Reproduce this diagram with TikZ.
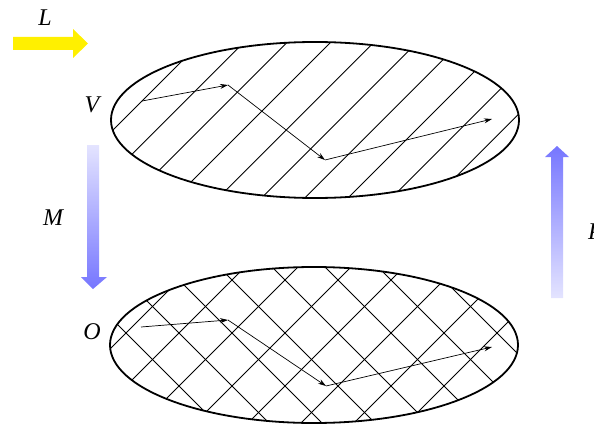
\documentclass[tikz,border=0pt]{standalone}
\usepackage{fontspec}
\setmainfont{Liberation Serif}
\usetikzlibrary{arrows.meta}
\definecolor{lightb}{RGB}{228,228,255}
\definecolor{darkb}{RGB}{118,118,255}
\definecolor{yel}{RGB}{255,240,0}
\begin{document}
\begin{tikzpicture}[x=1pt,y=-1pt,
  lbl/.style={font=\itshape\fontsize{24}{24}\selectfont, inner sep=0pt},
  hatch/.style={line width=0.9pt},
  vec/.style={line width=0.7pt,-{Stealth[length=8pt,width=5pt]}},
  rim/.style={line width=1.8pt}]
\useasboundingbox (0,0) rectangle (594,425);
% top ellipse
\begin{scope}
  \clip (315,120) ellipse [x radius=204, y radius=78];
  \foreach \k in {-1,...,10}{
    \pgfmathsetmacro{\c}{243+43.3*\k}
    \draw[hatch] (\c-450,450) -- (\c,0);
  }
\end{scope}
\draw[rim] (315,120) ellipse [x radius=204, y radius=78];
% bottom ellipse
\begin{scope}
  \clip (314,345) ellipse [x radius=204, y radius=78];
  \foreach \k in {-4,...,6}{
    \pgfmathsetmacro{\c}{618+53*\k}
    \draw[hatch] (\c-450,450) -- (\c,0);
  }
  \foreach \k in {-6,...,3}{
    \pgfmathsetmacro{\b}{58+53*\k}
    \draw[hatch] (\b,0) -- (\b+450,450);
  }
\end{scope}
\draw[rim] (314,345) ellipse [x radius=204, y radius=78];
% vectors top
\coordinate (t1) at (142,101);
\coordinate (t2) at (228,85);
\coordinate (t3) at (325,160);
\coordinate (t4) at (492,119);
\draw[vec] (t1) -- (t2);
\draw[vec] (t2) -- (t3);
\draw[vec] (t3) -- (t4);
% vectors bottom
\coordinate (b1) at (141,327);
\coordinate (b2) at (228,320);
\coordinate (b3) at (326,386);
\coordinate (b4) at (492,347);
\draw[vec] (b1) -- (b2);
\draw[vec] (b2) -- (b3);
\draw[vec] (b3) -- (b4);
% yellow arrow
\fill[yel] (13,37) -- (73,37) -- (73,29) -- (88,43.5) -- (73,58) -- (73,50) -- (13,50) -- cycle;
% M arrow (down)
\shade[top color=lightb, bottom color=darkb] (87,145) -- (99,145) -- (99,277) -- (107,277) -- (93,289) -- (81,277) -- (87,277) -- cycle;
% right arrow (up)
\shade[top color=darkb, bottom color=lightb] (551,298) -- (563,298) -- (563,157) -- (569,157) -- (557,146) -- (545,157) -- (551,157) -- cycle;
% labels
\node[lbl] (L) at (45,18) {L};
\node[lbl] (V) at (92,105) {V};
\node[lbl] (M) at (53,218) {M};
\node[lbl] (O) at (92,332) {O};
\node[lbl, anchor=west] (P) at (588,232) {P};
\end{tikzpicture}
\end{document}
